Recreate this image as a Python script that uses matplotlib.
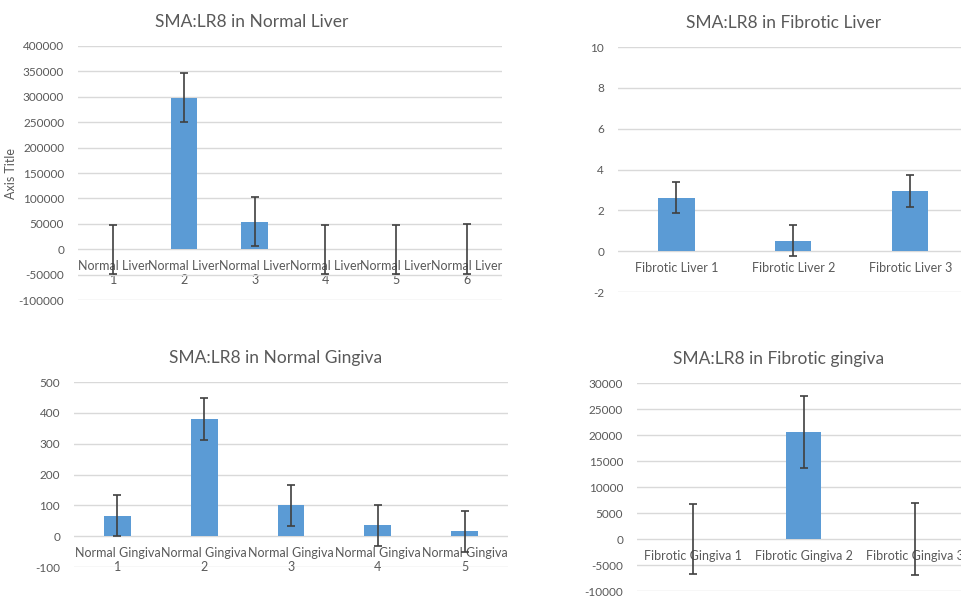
import numpy as np
import matplotlib
matplotlib.use("Agg")
import matplotlib.pyplot as plt

plt.rcParams['font.family'] = ['Lato', 'DejaVu Sans']
plt.rcParams['axes.unicode_minus'] = False

BAR = "#5B9BD5"
ERR = "#404040"
GRID = "#D9D9D9"
TXT = "#595959"

# panel data
nl_labels = ["Normal Liver\n1", "Normal Liver\n2", "Normal Liver\n3",
             "Normal Liver\n4", "Normal Liver\n5", "Normal Liver\n6"]
nl_values = [0, 298000, 54000, 0, 0, 0]
nl_err = [48000, 48000, 48000, 48000, 48000, 49000]

fl_labels = ["Fibrotic Liver 1", "Fibrotic Liver 2", "Fibrotic Liver 3"]
fl_values = [2.62, 0.52, 2.95]
fl_err = [0.76, 0.77, 0.78]

ng_labels = ["Normal Gingiva\n1", "Normal Gingiva\n2", "Normal Gingiva\n3",
             "Normal Gingiva\n4", "Normal Gingiva\n5"]
ng_values = [67, 380, 100, 35, 16]
ng_err = [68, 67, 67, 67, 67]

fg_labels = ["Fibrotic Gingiva 1", "Fibrotic Gingiva 2", "Fibrotic Gingiva 3"]
fg_values = [0, 20600, 0]
fg_err = [6800, 6900, 7000]


def panel(fig, rect, title, tx, labels, values, errs, ylim, ystep, width, ylabel=None):
    ax = fig.add_axes(rect)
    x = np.arange(len(labels))
    ax.bar(x, values, width=width, color=BAR, zorder=2)
    ax.errorbar(x, values, yerr=errs, fmt="none", ecolor=ERR, elinewidth=1.2,
                capsize=3, capthick=1.2, zorder=3)
    ax.set_xlim(-0.5, len(labels) - 0.5)
    ax.set_ylim(*ylim)
    ax.set_yticks(np.arange(ylim[0], ylim[1] + ystep / 2, ystep))
    ax.set_xticks(x)
    ax.set_xticklabels(labels, linespacing=1.1)
    ax.yaxis.grid(True, color=GRID, lw=1, zorder=0)
    for s in ax.spines.values():
        s.set_visible(False)
    ax.spines['bottom'].set_position(('data', 0))
    ax.tick_params(axis='both', length=0, colors=TXT)
    ax.tick_params(axis='x', pad=8, labelsize=9)
    ax.tick_params(axis='y', pad=10, labelsize=8.5)
    ax.set_title(title, color=TXT, fontsize=12.5, pad=14, x=tx)
    if ylabel:
        ax.set_ylabel(ylabel, color=TXT, fontsize=9)
        ax.yaxis.set_label_coords(-0.145, 0.5)
    return ax


fig = plt.figure(figsize=(9.61, 5.98), dpi=100)

panel(fig, [0.0812, 0.4983, 0.4412, 0.4248], "SMA:LR8 in Normal Liver", 0.41,
      nl_labels, nl_values, nl_err, (-100000, 400000), 50000, 0.38,
      ylabel="Axis Title")
panel(fig, [0.643, 0.5117, 0.365, 0.4097], "SMA:LR8 in Fibrotic Liver", 0.473,
      fl_labels, fl_values, fl_err, (-2, 10), 2, 0.31)
panel(fig, [0.077, 0.0518, 0.4516, 0.3094], "SMA:LR8 in Normal Gingiva", 0.465,
      ng_labels, ng_values, ng_err, (-100, 500), 100, 0.31)
panel(fig, [0.6629, 0.0117, 0.3465, 0.3478], "SMA:LR8 in Fibrotic gingiva", 0.426,
      fg_labels, fg_values, fg_err, (-10000, 30000), 5000, 0.31)

fig.savefig("out.png", dpi=100)
